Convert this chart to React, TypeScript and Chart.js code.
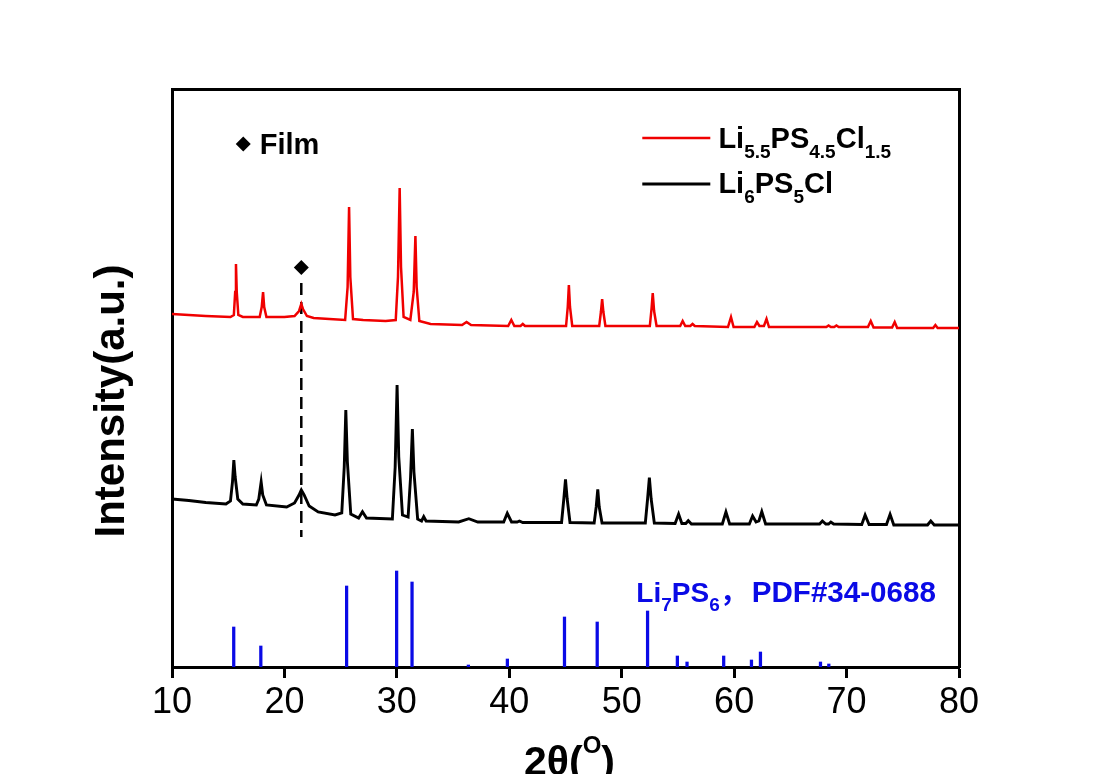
import React, { useEffect, useRef } from 'react';
import { Chart, registerables } from 'chart.js';

Chart.register(...registerables);

const FONT = '"Liberation Sans", Arial, "Noto Sans CJK SC", sans-serif';
const RED = '#f00000';
const BLACK = '#000000';
const BLUE = '#0a0ae6';

// x axis (2θ) tick values
const xTicks = [10, 20, 30, 40, 50, 60, 70, 80];

// Li5.5PS4.5Cl1.5 pattern, [2θ, intensity offset]
const redPattern: [number, number][] = [
  [10.0, 353], [11.5, 352], [13.0, 351], [15.2, 350], [15.5, 352], [15.62, 375], [15.69, 403], [15.76, 375], [15.9, 352],
  [16.3, 350], [17.8, 350], [17.98, 360], [18.1, 375], [18.2, 360], [18.4, 350], [20.0, 350], [20.9, 351], [21.3, 356],
  [21.5, 363], [21.65, 358], [22.0, 351], [22.6, 349], [24.0, 348], [25.4, 347], [25.62, 380], [25.75, 460], [25.86, 390],
  [26.1, 348], [27.0, 347], [29.0, 346], [29.9, 347], [30.1, 390], [30.25, 479], [30.37, 400], [30.6, 350], [31.2, 347],
  [31.5, 375], [31.65, 431], [31.76, 380], [32.0, 346], [33.0, 343], [35.8, 342], [36.2, 345], [36.6, 342], [39.9, 341],
  [40.18, 347], [40.45, 341], [41.0, 341], [41.2, 343], [41.4, 341], [45.05, 341], [45.2, 360], [45.3, 382], [45.4, 360],
  [45.6, 341], [48.0, 341], [48.15, 355], [48.26, 368], [48.37, 355], [48.55, 341], [52.5, 341], [52.65, 358], [52.76, 374],
  [52.88, 356], [53.1, 341], [55.2, 341], [55.42, 346], [55.65, 341], [56.1, 341], [56.3, 343], [56.5, 341], [59.45, 340],
  [59.72, 350], [59.95, 340], [61.8, 340], [62.03, 345], [62.25, 341], [62.65, 341], [62.88, 348], [63.1, 340], [68.2, 340],
  [68.4, 341.5], [68.6, 340], [68.9, 340], [69.1, 341.5], [69.3, 340], [71.9, 340], [72.15, 346], [72.4, 339.5], [74.05, 339.5],
  [74.28, 345], [74.5, 339], [77.7, 339], [77.9, 342], [78.1, 339], [80.0, 339],
];

// Li6PS5Cl pattern, [2θ, intensity offset]
const blackPattern: [number, number][] = [
  [10.0, 168], [11.5, 166.5], [13.0, 164.5], [14.8, 163], [15.2, 166], [15.38, 185], [15.5, 207], [15.62, 190], [15.85, 168],
  [16.3, 163], [17.5, 162], [17.72, 168], [17.93, 185], [18.07, 172], [18.4, 162], [20.2, 160], [20.9, 164], [21.3, 172],
  [21.5, 177], [21.75, 172], [22.2, 161], [23.0, 155], [24.5, 152], [25.1, 154], [25.32, 200], [25.46, 257], [25.6, 205],
  [25.9, 153], [26.6, 149], [26.94, 155.3], [27.3, 149], [29.6, 148], [29.85, 200], [30.02, 282], [30.17, 210], [30.5, 152],
  [31.0, 150], [31.22, 190], [31.38, 238], [31.52, 195], [31.85, 148], [32.2, 146], [32.39, 150.3], [32.6, 146], [35.5, 145],
  [36.4, 148.3], [37.2, 145], [39.5, 145], [39.82, 153.7], [40.2, 145], [40.7, 145], [40.9, 146], [41.2, 144.5], [44.65, 144.5],
  [44.85, 168], [45.0, 187.7], [45.15, 168], [45.4, 144.5], [47.55, 144], [47.73, 160], [47.87, 177.7], [48.0, 160], [48.25, 144],
  [52.1, 144], [52.3, 168], [52.46, 189.3], [52.62, 168], [52.9, 144], [54.75, 143.5], [55.06, 153], [55.35, 143.5], [55.7, 143.5],
  [55.92, 146.3], [56.2, 143], [58.95, 143], [59.27, 155], [59.6, 143], [61.35, 143], [61.64, 151], [61.95, 145], [62.2, 146],
  [62.46, 155.3], [62.8, 143], [67.6, 143], [67.85, 146], [68.15, 143], [68.4, 143], [68.6, 145], [68.85, 143], [71.35, 142.5],
  [71.65, 152], [72.0, 142.5], [73.55, 142.5], [73.87, 152.7], [74.2, 142], [77.2, 142], [77.49, 146], [77.8, 142], [80.0, 142],
];

// Li7PS6 reference (PDF#34-0688) stick positions and heights
const stickPositions = [15.49, 17.9, 25.53, 29.98, 31.35, 36.36, 39.83, 44.91, 47.82, 52.3, 54.95, 55.81, 59.07, 61.54, 62.34, 67.68, 68.42];
const stickHeights = [40, 21, 81, 96, 85, 2, 8, 50, 45, 56, 11, 5, 11, 7, 15, 5, 3];

// film peak marker
const filmPeakX = 21.5;
const filmMarkerY = 399.5;
const filmLineTop = 384;
const filmLineBottom = 130;

const Y_MIN = 0;
const Y_MAX = 578;

type Part = [string, number]; // 0 normal, 1 subscript, 2 superscript
const redLabel: Part[] = [['Li', 0], ['5.5', 1], ['PS', 0], ['4.5', 1], ['Cl', 0], ['1.5', 1]];
const blackLabel: Part[] = [['Li', 0], ['6', 1], ['PS', 0], ['5', 1], ['Cl', 0]];
const refLabel: Part[] = [['Li', 0], ['7', 1], ['PS', 0], ['6', 1], ['，', 0]];
const refCard = 'PDF#34-0688';
const xTitle: Part[] = [['2θ(', 0], ['O', 2], [')', 0]];
const yTitle = 'Intensity(a.u.)';
const filmLabel = 'Film';

function drawRich(ctx: CanvasRenderingContext2D, parts: Part[], x: number, y: number, size: number, small: number, drop: number, rise: number, color: string) {
  ctx.save();
  ctx.fillStyle = color;
  ctx.textBaseline = 'alphabetic';
  ctx.textAlign = 'left';
  let cx = x;
  for (const [t, k] of parts) {
    const s = k === 0 ? size : small;
    ctx.font = `bold ${s}px ${FONT}`;
    const yy = k === 1 ? y + drop : k === 2 ? y - rise : y;
    ctx.fillText(t, cx, yy);
    cx += ctx.measureText(t).width;
  }
  ctx.restore();
  return cx - x;
}

function richWidth(ctx: CanvasRenderingContext2D, parts: Part[], size: number, small: number) {
  ctx.save();
  let w = 0;
  for (const [t, k] of parts) {
    ctx.font = `bold ${k === 0 ? size : small}px ${FONT}`;
    w += ctx.measureText(t).width;
  }
  ctx.restore();
  return w;
}

function diamond(ctx: CanvasRenderingContext2D, x: number, y: number, r: number) {
  ctx.beginPath();
  ctx.moveTo(x - r, y);
  ctx.lineTo(x, y - r);
  ctx.lineTo(x + r, y);
  ctx.lineTo(x, y + r);
  ctx.closePath();
  ctx.fill();
}

const annotations = {
  id: 'annotations',
  afterDraw(chart: any) {
    const { ctx, chartArea, scales } = chart;
    const xs = scales.x;
    const ys = scales.y;
    const px = (v: number) => xs.getPixelForValue(v);
    const py = (v: number) => ys.getPixelForValue(v);

    // Film label
    ctx.save();
    ctx.fillStyle = BLACK;
    diamond(ctx, px(16.34), py(523), 7.5);
    ctx.font = `bold 29px ${FONT}`;
    ctx.textBaseline = 'alphabetic';
    ctx.fillText(filmLabel, px(17.8), py(513));
    ctx.restore();

    // legend
    ctx.save();
    ctx.lineWidth = 2.5;
    ctx.strokeStyle = RED;
    ctx.beginPath();
    ctx.moveTo(px(51.83), py(529));
    ctx.lineTo(px(57.88), py(529));
    ctx.stroke();
    ctx.lineWidth = 2.8;
    ctx.strokeStyle = BLACK;
    ctx.beginPath();
    ctx.moveTo(px(51.83), py(483));
    ctx.lineTo(px(57.88), py(483));
    ctx.stroke();
    ctx.restore();
    drawRich(ctx, redLabel, px(58.6), py(519), 29, 19, 10, 0, BLACK);
    drawRich(ctx, blackLabel, px(58.6), py(474), 29, 19, 10, 0, BLACK);

    // reference label
    drawRich(ctx, refLabel, px(51.3), py(65), 28, 19, 9, 0, BLUE);
    ctx.save();
    ctx.fillStyle = BLUE;
    ctx.font = `bold 29.6px ${FONT}`;
    ctx.textBaseline = 'alphabetic';
    ctx.textAlign = 'right';
    ctx.fillText(refCard, px(77.95), py(65));
    ctx.restore();

    // y title
    ctx.save();
    ctx.translate(chartArea.left - 60, py(266));
    ctx.rotate(-Math.PI / 2);
    ctx.font = `bold 42px ${FONT}`;
    ctx.fillStyle = BLACK;
    ctx.textAlign = 'center';
    ctx.textBaseline = 'middle';
    ctx.fillText(yTitle, 0, 0);
    ctx.restore();

    // x title
    const w = richWidth(ctx, xTitle, 41, 24);
    const cx = (chartArea.left + chartArea.right) / 2 + 4;
    drawRich(ctx, xTitle, cx - w / 2, chartArea.bottom + 108, 41, 24, 0, 22, BLACK);
  },
};

export default function App() {
  const ref = useRef<HTMLCanvasElement | null>(null);
  useEffect(() => {
    if (!ref.current) return;
    const chart = new Chart(ref.current, {
      type: 'line',
      data: {
        datasets: [
          {
            label: 'Li5.5PS4.5Cl1.5',
            data: redPattern.map(([x, y]) => ({ x, y })),
            borderColor: RED,
            borderWidth: 2.5,
            pointRadius: 0,
            tension: 0,
            fill: false,
          },
          {
            label: 'Li6PS5Cl',
            data: blackPattern.map(([x, y]) => ({ x, y })),
            borderColor: BLACK,
            borderWidth: 2.9,
            pointRadius: 0,
            tension: 0,
            fill: false,
          },
          {
            label: 'film line',
            data: [{ x: filmPeakX, y: filmLineTop }, { x: filmPeakX, y: filmLineBottom }],
            borderColor: BLACK,
            borderWidth: 2.5,
            borderDash: [12, 7],
            pointRadius: 0,
            fill: false,
          },
          {
            label: 'film marker',
            data: [{ x: filmPeakX, y: filmMarkerY }],
            showLine: false,
            pointStyle: 'rectRot',
            pointRadius: 7.5,
            pointBackgroundColor: BLACK,
            pointBorderColor: BLACK,
            pointBorderWidth: 0,
          },
          {
            type: 'bar',
            label: 'Li7PS6 PDF#34-0688',
            data: stickPositions.map((x, i) => ({ x, y: stickHeights[i] })),
            backgroundColor: BLUE,
            borderWidth: 0,
            barThickness: 2.6,
          } as any,
        ],
      },
      options: {
        animation: false,
        responsive: true,
        maintainAspectRatio: false,
        devicePixelRatio: 1,
        layout: { padding: 0 },
        plugins: {
          legend: { display: false },
          tooltip: { enabled: false },
          title: { display: false },
        },
        scales: {
          x: {
            type: 'linear',
            position: 'bottom',
            min: 10,
            max: 80,
            offset: false,
            afterFit: (s: any) => { s.height = 107; },
            afterBuildTicks: (s: any) => { s.ticks = xTicks.map((v) => ({ value: v })); },
            ticks: { color: BLACK, font: { family: FONT, size: 36 }, padding: 3, maxRotation: 0, autoSkip: false },
            grid: { drawOnChartArea: false, drawTicks: true, tickLength: 11, tickWidth: 3, tickColor: BLACK, offset: false },
            border: { display: true, color: BLACK, width: 3 },
          },
          xTop: {
            type: 'linear',
            position: 'top',
            min: 10,
            max: 80,
            afterFit: (s: any) => { s.height = 89; },
            ticks: { display: false },
            grid: { display: false, drawTicks: false },
            border: { display: true, color: BLACK, width: 3 },
          },
          y: {
            type: 'linear',
            position: 'left',
            min: Y_MIN,
            max: Y_MAX,
            afterFit: (s: any) => { s.width = 172; },
            ticks: { display: false },
            grid: { display: false, drawTicks: false },
            border: { display: true, color: BLACK, width: 3 },
          },
          yRight: {
            type: 'linear',
            position: 'right',
            min: Y_MIN,
            max: Y_MAX,
            afterFit: (s: any) => { s.width = 141; },
            ticks: { display: false },
            grid: { display: false, drawTicks: false },
            border: { display: true, color: BLACK, width: 3 },
          },
        },
      } as any,
      plugins: [annotations],
    });
    return () => chart.destroy();
  }, []);

  return (
    <div style={{ position: 'fixed', left: 0, top: 0, width: 1100, height: 774, background: '#fff' }}>
      <canvas ref={ref} />
    </div>
  );
}
